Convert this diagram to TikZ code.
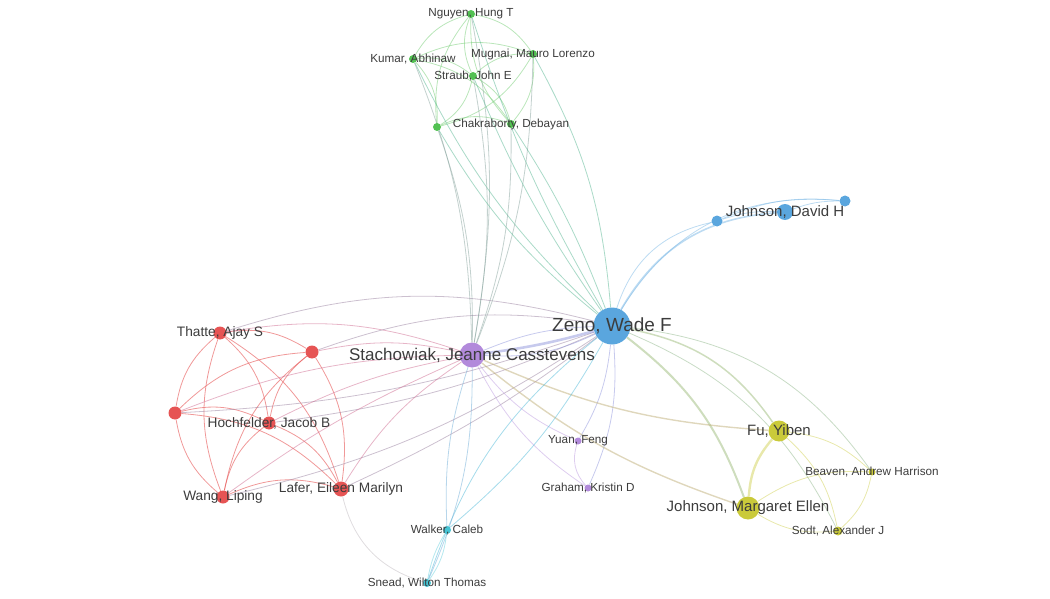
\documentclass[tikz,border=0pt]{standalone}
\usepackage{fontspec}
\setmainfont{Liberation Sans}
\usetikzlibrary{backgrounds}
\definecolor{clred}   {HTML}{E65454}
\definecolor{clgreen} {HTML}{52C152}
\definecolor{clblue}  {HTML}{5AA6DE}
\definecolor{clyellow}{HTML}{CACA3A}
\definecolor{clpurple}{HTML}{B28ADB}
\definecolor{clcyan}  {HTML}{44C4D4}
\definecolor{labelgray}{HTML}{3C3C3C}
\tikzset{
  % --- nodes
  au/.style   = {circle, inner sep=0pt, draw=none},
  lbl/.style  = {text=labelgray, inner sep=0pt},
  fxl/.style  = {lbl, font=\fontsize{19}{21}\selectfont},
  fl/.style   = {lbl, font=\fontsize{17}{19}\selectfont},
  fm/.style   = {lbl, font=\fontsize{15}{17}\selectfont},
  fn/.style   = {lbl, font=\fontsize{13.7}{15}\selectfont},
  fs/.style   = {lbl, font=\fontsize{11.7}{13}\selectfont},
  % --- edges
  link/.style = {line width=0.8pt, opacity=0.5},
  ered/.style = {link, draw=clred, opacity=0.6},
  egrn/.style = {link, draw=clgreen!80},
  eblu/.style = {link, draw=clblue!80},
  eyel/.style = {link, draw=clyellow!85},
  epur/.style = {link, draw=clpurple!85},
  ecya/.style = {link, draw=clcyan!80},
}
\begin{document}
\begin{tikzpicture}[x=1pt,y=-1pt]
  \useasboundingbox (0,0) rectangle (1050,599);

  % green cluster
  \node[au, fill=clgreen, minimum size=8pt] (nguyen) at (471,14)  {};
  \node[au, fill=clgreen, minimum size=8pt] (kumar)  at (413,59)  {};
  \node[au, fill=clgreen, minimum size=8pt] (mugnai) at (533,54)  {};
  \node[au, fill=clgreen, minimum size=8pt] (straub) at (473,76)  {};
  \node[au, fill=clgreen, minimum size=8pt] (gfive)  at (437,127) {};
  \node[au, fill=clgreen, minimum size=8pt] (chakra) at (511,124) {};

  % blue cluster
  \node[au, fill=clblue, minimum size=37pt] (zeno)   at (612,326) {};
  \node[au, fill=clblue, minimum size=16pt] (jdh)    at (785,212) {};
  \node[au, fill=clblue, minimum size=11pt] (bone)   at (717,221) {};
  \node[au, fill=clblue, minimum size=11pt] (bthree) at (845,201) {};

  % purple cluster
  \node[au, fill=clpurple, minimum size=25pt] (stach)  at (472,355) {};
  \node[au, fill=clpurple, minimum size=7pt]  (yuan)   at (578,441) {};
  \node[au, fill=clpurple, minimum size=7pt]  (graham) at (588,488) {};

  % red cluster
  \node[au, fill=clred, minimum size=13pt] (thatte) at (220,333) {};
  \node[au, fill=clred, minimum size=13pt] (rtwo)   at (312,352) {};
  \node[au, fill=clred, minimum size=13pt] (rthree) at (175,413) {};
  \node[au, fill=clred, minimum size=13pt] (hoch)   at (269,423) {};
  \node[au, fill=clred, minimum size=13pt] (wang)   at (223,497) {};
  \node[au, fill=clred, minimum size=15pt] (lafer)  at (341,489) {};

  % yellow cluster
  \node[au, fill=clyellow, minimum size=21pt] (fu)     at (779,431) {};
  \node[au, fill=clyellow, minimum size=23pt] (jme)    at (748,508) {};
  \node[au, fill=clyellow, minimum size=7pt]  (beaven) at (872,472) {};
  \node[au, fill=clyellow, minimum size=9pt]  (sodt)   at (838,531) {};

  % cyan cluster
  \node[au, fill=clcyan, minimum size=8pt] (walker) at (447,530) {};
  \node[au, fill=clcyan, minimum size=8pt] (snead)  at (427,583) {};

  % labels
  \node[fs]  (nguyen-l) at (nguyen) {Nguyen, Hung T};
  \node[fs]  (kumar-l)  at (kumar)  {Kumar, Abhinaw};
  \node[fs]  (mugnai-l) at (mugnai) {Mugnai, Mauro Lorenzo};
  \node[fs]  (straub-l) at (straub) {Straub, John E};
  \node[fs]  (chakra-l) at (chakra) {Chakraborty, Debayan};
  \node[fxl] (zeno-l)   at (zeno)   {Zeno, Wade F};
  \node[fm]  (jdh-l)    at (jdh)    {Johnson, David H};
  \node[fl]  (stach-l)  at (stach)  {Stachowiak, Jeanne Casstevens};
  \node[fs]  (yuan-l)   at (yuan)   {Yuan, Feng};
  \node[fs]  (graham-l) at (graham) {Graham, Kristin D};
  \node[fn]  (thatte-l) at (thatte) {Thatte, Ajay S};
  \node[fn]  (hoch-l)   at (hoch)   {Hochfelder, Jacob B};
  \node[fn]  (wang-l)   at (wang)   {Wang, Liping};
  \node[fn]  (lafer-l)  at (lafer)  {Lafer, Eileen Marilyn};
  \node[fm]  (fu-l)     at (fu)     {Fu, Yiben};
  \node[fm]  (jme-l)    at (jme)    {Johnson, Margaret Ellen};
  \node[fs]  (beaven-l) at (beaven) {Beaven, Andrew Harrison};
  \node[fs]  (sodt-l)   at (sodt)   {Sodt, Alexander J};
  \node[fs]  (walker-l) at (walker) {Walker, Caleb};
  \node[fs]  (snead-l)  at (snead)  {Snead, Wilton Thomas};

  \begin{scope}[on background layer]
    % red cluster
    \foreach \a/\b in {rthree/thatte, wang/rthree, wang/thatte, thatte/lafer,
                       thatte/hoch, thatte/rtwo, rthree/rtwo, hoch/rtwo, wang/rtwo,
                       rtwo/lafer, rthree/hoch, rthree/lafer, wang/hoch, hoch/lafer,
                       wang/lafer}
      \draw[ered] (\a) to[bend left=20] (\b);
    \foreach \a/\s/\z in {thatte/14/16, rtwo/12/14, rthree/10/-8,
                          hoch/8/-8, wang/6/-10, lafer/12/-6}{
      \draw[link, draw=clred!55!clpurple] (\a) to[bend left=\s] (stach);
      \draw[link, draw=clred!45!clblue]   (\a) to[bend left=\z] (zeno);
    }

    % green cluster
    \foreach \a/\b in {kumar/nguyen, nguyen/mugnai, straub/nguyen, gfive/nguyen,
                       chakra/nguyen, kumar/mugnai, kumar/straub, kumar/gfive,
                       kumar/chakra, straub/mugnai, mugnai/gfive, mugnai/chakra,
                       straub/gfive, straub/chakra, gfive/chakra}
      \draw[egrn] (\a) to[bend left=22] (\b);
    \foreach \a/\z in {nguyen/-6, kumar/-10, mugnai/12, straub/-6, gfive/-10, chakra/6}{
      \draw[link, draw=clgreen!55!clblue]   (\a) to[bend left=\z] (zeno);
      \draw[link, draw=clgreen!45!clpurple] (\a) to[bend left=10] (stach);
    }

    % blue cluster
    \draw[eblu, line width=1.6pt] (zeno) to[bend left=28] (jdh);
    \draw[eblu] (zeno) to[bend left=30] (bone);
    \draw[eblu] (zeno) to[bend left=32] (bthree);
    \draw[eblu] (bone) to[bend left=10] (jdh);
    \draw[eblu] (jdh)  to[bend left=10] (bthree);
    \draw[eblu] (bone) to[bend left=14] (bthree);

    % purple cluster
    \draw[link, draw=clpurple!60!clblue, line width=2.6pt] (stach) to[bend right=4] (zeno);
    \draw[link, draw=clpurple!60!clblue] (stach) to[bend left=10] (zeno);
    \draw[link, draw=clpurple!60!clblue] (stach) to[bend right=14] (zeno);
    \draw[epur] (yuan)   to[bend left=14] (stach);
    \draw[epur] (graham) to[bend left=14] (stach);
    \draw[link, draw=clpurple!60!clblue] (zeno) to[bend left=12] (yuan);
    \draw[link, draw=clpurple!60!clblue] (zeno) to[bend left=14] (graham);
    \draw[epur] (graham) to[bend left=30] (yuan);

    % yellow cluster
    \draw[eyel, line width=2.4pt] (jme) to[bend left=18] (fu);
    \foreach \a/\b in {fu/beaven, fu/sodt, jme/beaven, sodt/jme, beaven/sodt}
      \draw[eyel] (\a) to[bend left=18] (\b);
    \draw[link, draw=clyellow!60!clblue, line width=1.5pt] (zeno) to[bend left=22] (fu);
    \draw[link, draw=clyellow!60!clblue, line width=2pt]   (zeno) to[bend left=16] (jme);
    \draw[link, draw=clyellow!50!clblue] (zeno) to[bend left=24] (beaven);
    \draw[link, draw=clyellow!50!clblue] (zeno) to[bend left=20] (sodt);
    \draw[link, draw=clyellow!60!clpurple, line width=1.4pt] (fu)  to[bend left=10] (stach);
    \draw[link, draw=clyellow!60!clpurple, line width=1.4pt] (jme) to[bend left=10] (stach);

    % cyan cluster
    \draw[ecya] (walker) to[bend left=14] (snead);
    \draw[ecya] (snead)  to[bend left=10] (walker);
    \draw[link, draw=clcyan!60!clblue] (zeno) to[bend left=10] (walker);
    \draw[link, draw=clcyan!60!clblue] (zeno) to[bend right=16] (snead);
    \draw[link, draw=clcyan!60!clpurple] (stach) to[bend right=10] (walker);
    \draw[link, draw=clcyan!60!clpurple] (stach) to[bend left=12] (snead);
    \draw[link, draw=clcyan!50!clred, opacity=0.3] (lafer) to[bend right=30] (snead);
  \end{scope}
\end{tikzpicture}
\end{document}
